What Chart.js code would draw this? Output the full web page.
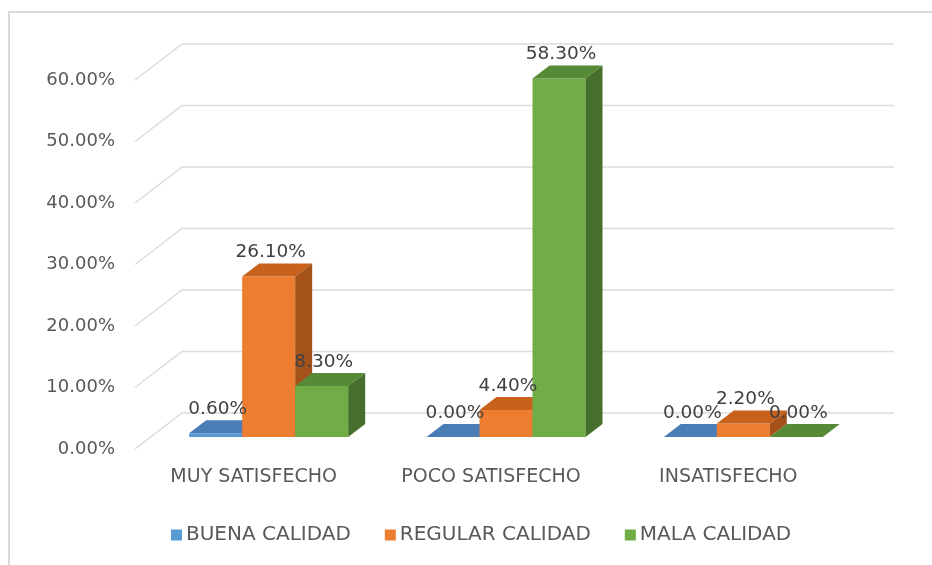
<!DOCTYPE html>
<html>
<head>
<meta charset="utf-8">
<title>Satisfaccion vs calidad</title>
<script src="https://cdn.jsdelivr.net/npm/chart.js@4.4.1/dist/chart.umd.min.js"></script>
<style>
  html, body { margin: 0; padding: 0; background: #ffffff; }
</style>
</head>
<body>
<canvas id="chart" width="932" height="565"></canvas>
<script>
// datos del grafico
var categories = ['MUY SATISFECHO', 'POCO SATISFECHO', 'INSATISFECHO'];
var seriesNames = ['BUENA CALIDAD', 'REGULAR CALIDAD', 'MALA CALIDAD'];
var buena = [0.6, 0, 0];
var regular = [26.1, 4.4, 2.2];
var mala = [8.3, 58.3, 0];
var yTicks = [0, 10, 20, 30, 40, 50, 60];

// colores: frente, tapa, costado
var frontColors = ['#5B9BD5', '#ED7D31', '#70AD47'];
var topColors = ['#4A7DB6', '#C8611C', '#578A36'];
var sideColors = ['#3C6794', '#A5511A', '#466F2B'];

// efecto 3D
var WALL_X = 47, WALL_Y = -36;   // fondo de las lineas
var SHIFT_X = 15, SHIFT_Y = -12; // frente de las barras
var DEPTH_X = 17, DEPTH_Y = -13; // profundidad de la barra

Chart.defaults.font.family = '"DejaVu Sans", sans-serif';
Chart.defaults.font.size = 18;
Chart.defaults.color = '#595959';

function poly(ctx, pts, color) {
  ctx.beginPath();
  ctx.moveTo(pts[0][0], pts[0][1]);
  for (var i = 1; i < pts.length; i++) ctx.lineTo(pts[i][0], pts[i][1]);
  ctx.closePath();
  ctx.fillStyle = color;
  ctx.fill();
}

var bars3d = {
  id: 'bars3d',
  beforeDraw: function(chart) {
    var ctx = chart.ctx;
    ctx.save();
    ctx.strokeStyle = '#D9D9D9';
    ctx.lineWidth = 2;
    ctx.strokeRect(9, 12, chart.width + 20, chart.height + 20);
    ctx.restore();
  },
  beforeDatasetsDraw: function(chart) {
    var ctx = chart.ctx;
    var area = chart.chartArea;
    var yScale = chart.scales.y;

    // lineas de division en L
    ctx.save();
    ctx.strokeStyle = '#DCDCDC';
    ctx.lineWidth = 1.5;
    yScale.ticks.forEach(function(t) {
      var y = yScale.getPixelForValue(t.value);
      ctx.beginPath();
      ctx.moveTo(area.left, y);
      ctx.lineTo(area.left + WALL_X, y + WALL_Y);
      ctx.lineTo(area.right + WALL_X, y + WALL_Y);
      ctx.stroke();
    });

    // barras, de izquierda a derecha
    var labels = [];
    for (var j = 0; j < categories.length; j++) {
      chart.data.datasets.forEach(function(ds, i) {
        var el = chart.getDatasetMeta(i).data[j];
        var l = el.x - el.width / 2 + SHIFT_X;
        var r = el.x + el.width / 2 + SHIFT_X;
        var t = el.y + SHIFT_Y;
        var b = el.base + SHIFT_Y;
        if (b - t > 0) poly(ctx, [[l, t], [r, t], [r, b], [l, b]], frontColors[i]);
        poly(ctx, [[l, t], [r, t], [r + DEPTH_X, t + DEPTH_Y], [l + DEPTH_X, t + DEPTH_Y]], topColors[i]);
        poly(ctx, [[r, t], [r + DEPTH_X, t + DEPTH_Y], [r + DEPTH_X, b + DEPTH_Y], [r, b]], sideColors[i]);
        labels.push({ x: el.x + SHIFT_X + 2, y: t - 24, text: ds.data[j].toFixed(2) + '%' });
      });
    }

    // etiquetas de datos
    ctx.fillStyle = '#404040';
    ctx.font = '18.5px "DejaVu Sans", sans-serif';
    ctx.textAlign = 'center';
    ctx.textBaseline = 'middle';
    labels.forEach(function(lb) { ctx.fillText(lb.text, lb.x, lb.y); });

    // leyenda
    ctx.font = '20px "DejaVu Sans", sans-serif';
    ctx.textAlign = 'left';
    var lx = 171, ly = 535;
    seriesNames.forEach(function(name, i) {
      ctx.fillStyle = frontColors[i];
      ctx.fillRect(lx, ly - 5.5, 11, 11);
      ctx.fillStyle = '#595959';
      ctx.fillText(name, lx + 15, ly);
      lx += 15 + ctx.measureText(name).width + 34;
    });
    ctx.restore();
    return false;
  }
};

var ctx = document.getElementById('chart').getContext('2d');
new Chart(ctx, {
  type: 'bar',
  data: {
    labels: categories,
    datasets: [
      { label: seriesNames[0], data: buena, backgroundColor: frontColors[0] },
      { label: seriesNames[1], data: regular, backgroundColor: frontColors[1] },
      { label: seriesNames[2], data: mala, backgroundColor: frontColors[2] }
    ]
  },
  options: {
    responsive: false,
    animation: false,
    devicePixelRatio: 1,
    categoryPercentage: 0.67,
    barPercentage: 1,
    layout: { padding: { top: 80, right: 85, bottom: 76, left: 0 } },
    plugins: {
      legend: { display: false },
      tooltip: { enabled: false }
    },
    scales: {
      x: {
        grid: { display: false, drawTicks: false },
        border: { display: false },
        ticks: { padding: 17, color: '#595959', font: { size: 19 } },
        afterFit: function(s) { s.height = 40; }
      },
      y: {
        min: 0,
        max: 60,
        grid: { display: false, drawTicks: false },
        border: { display: false },
        ticks: {
          padding: 20,
          color: '#595959',
          callback: function(v) { return v.toFixed(2) + '%'; }
        },
        afterBuildTicks: function(s) {
          s.ticks = yTicks.map(function(v) { return { value: v }; });
        },
        afterFit: function(s) { s.width = 135; }
      }
    }
  },
  plugins: [bars3d]
});
</script>
</body>
</html>
